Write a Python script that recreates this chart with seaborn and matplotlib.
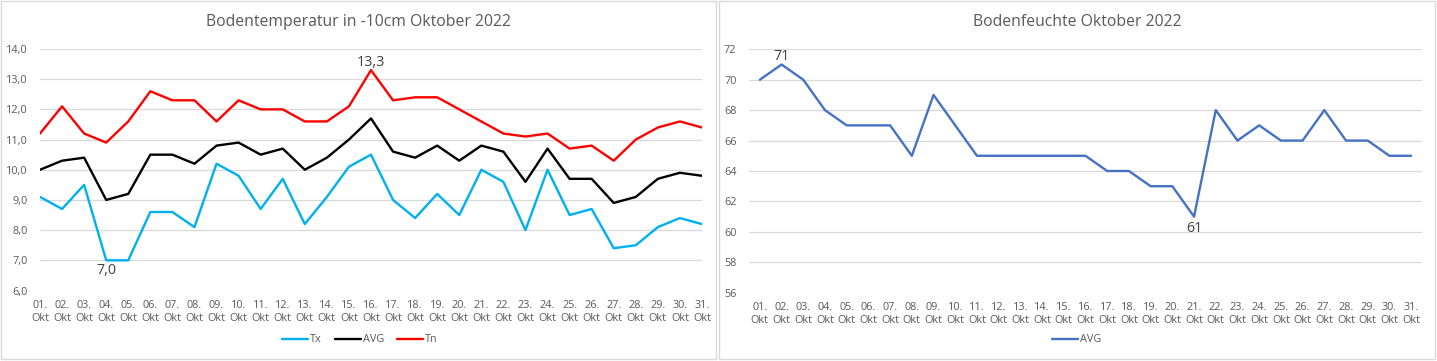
import matplotlib
matplotlib.use("Agg")
import matplotlib.pyplot as plt
from matplotlib.patches import Rectangle
import seaborn as sns
import pandas as pd
import numpy as np

days = [f"{d:02d}.\nOkt" for d in range(1, 32)]
tx = [9.1, 8.7, 9.5, 7.0, 7.0, 8.6, 8.6, 8.1, 10.2, 9.8, 8.7, 9.7, 8.2, 9.1, 10.1, 10.5,
      9.0, 8.4, 9.2, 8.5, 10.0, 9.6, 8.0, 10.0, 8.5, 8.7, 7.4, 7.5, 8.1, 8.4, 8.2]
avg_t = [10.0, 10.3, 10.4, 9.0, 9.2, 10.5, 10.5, 10.2, 10.8, 10.9, 10.5, 10.7, 10.0, 10.4, 11.0, 11.7,
         10.6, 10.4, 10.8, 10.3, 10.8, 10.6, 9.6, 10.7, 9.7, 9.7, 8.9, 9.1, 9.7, 9.9, 9.8]
tn = [11.2, 12.1, 11.2, 10.9, 11.6, 12.6, 12.3, 12.3, 11.6, 12.3, 12.0, 12.0, 11.6, 11.6, 12.1, 13.3,
      12.3, 12.4, 12.4, 12.0, 11.6, 11.2, 11.1, 11.2, 10.7, 10.8, 10.3, 11.0, 11.4, 11.6, 11.4]
feuchte = [70, 71, 70, 68, 67, 67, 67, 65, 69, 67, 65, 65, 65, 65, 65, 65,
           64, 64, 63, 63, 61, 68, 66, 67, 66, 66, 68, 66, 66, 65, 65]

title_left = "Bodentemperatur in -10cm Oktober 2022"
title_right = "Bodenfeuchte Oktober 2022"

sns.set_style("white")
plt.rcParams['font.family'] = ['Open Sans', 'DejaVu Sans']

W, H = 1437, 361
fig = plt.figure(figsize=(W / 100, H / 100), dpi=100)
fig.patch.set_facecolor("white")

def fx(px):
    return px / W

def fy(py):
    return 1 - py / H

# panel borders
for x0, x1 in [(1, 716), (719, 1435)]:
    fig.patches.append(Rectangle((fx(x0), fy(359)), fx(x1) - fx(x0), fy(1) - fy(359),
                                 transform=fig.transFigure, fill=False,
                                 edgecolor="#D9D9D9", linewidth=1))

tick_color = "#595959"
grid_color = "#D9D9D9"

ax1 = fig.add_axes([fx(40), fy(290.5), fx(702) - fx(40), fy(49) - fy(290.5)])
ax2 = fig.add_axes([fx(749), fy(292.7), fx(1422) - fx(749), fy(49.3) - fy(292.7)])

x = np.arange(len(days))
df1 = pd.DataFrame({"x": np.tile(x, 3),
                    "val": tx + avg_t + tn,
                    "Serie": ["Tx"] * 31 + ["AVG"] * 31 + ["Tn"] * 31})
palette1 = {"Tx": "#00B0F0", "AVG": "#000000", "Tn": "#FF0000"}
sns.lineplot(data=df1, x="x", y="val", hue="Serie", palette=palette1, ax=ax1,
             linewidth=1.7, legend=True)

df2 = pd.DataFrame({"x": x, "val": feuchte, "Serie": ["AVG"] * 31})
sns.lineplot(data=df2, x="x", y="val", hue="Serie", palette={"AVG": "#4472C4"}, ax=ax2,
             linewidth=1.7, legend=True)

def style(ax, ylim, yticks, fmt, xlim):
    ax.set_xlim(*xlim)
    ax.set_ylim(*ylim)
    ax.set_yticks(yticks)
    ax.set_yticklabels([fmt(v) for v in yticks])
    ax.set_xticks(x)
    ax.set_xticklabels(days, linespacing=1.25)
    ax.set_xlabel("")
    ax.set_ylabel("")
    for s in ax.spines.values():
        s.set_visible(False)
    ax.grid(axis="y", color=grid_color, linewidth=0.9)
    ax.grid(axis="x", visible=False)
    ax.set_axisbelow(True)
    ax.tick_params(axis="both", length=0, colors=tick_color, labelsize=7.8)
    ax.tick_params(axis="y", pad=9)
    ax.tick_params(axis="x", pad=7)
    ax.set_facecolor("white")

style(ax1, (6, 14), np.arange(6, 14.1, 1.0), lambda v: f"{v:.1f}".replace(".", ","), (0, 30))
style(ax2, (56, 72), np.arange(56, 73, 2), lambda v: f"{int(v)}", (-0.5, 30.5))

# titles
fig.text(fx(359), fy(22), title_left, ha="center", va="center", fontsize=11.3, color="#595959")
fig.text(fx(1077), fy(22), title_right, ha="center", va="center", fontsize=11.3, color="#595959")

# data labels
lab = dict(fontsize=10.3, color="#404040", ha="center")
i_max = int(np.argmax(tn))
ax1.annotate(f"{tn[i_max]:.1f}".replace(".", ","), (x[i_max], tn[i_max]), xytext=(0, 0),
             textcoords="offset points", va="bottom", **lab)
i_min = int(np.argmin(tx))
ax1.annotate(f"{tx[i_min]:.1f}".replace(".", ","), (x[i_min], tx[i_min]), xytext=(0, -2),
             textcoords="offset points", va="top", **lab)
j_max = int(np.argmax(feuchte))
ax2.annotate(f"{feuchte[j_max]}", (x[j_max], feuchte[j_max]), xytext=(0, 0.5),
             textcoords="offset points", va="bottom", **lab)
j_min = int(np.argmin(feuchte))
ax2.annotate(f"{feuchte[j_min]}", (x[j_min], feuchte[j_min]), xytext=(0, -3.5),
             textcoords="offset points", va="top", **lab)

# legends
for ax, cx in [(ax1, 360), (ax2, 1077)]:
    h, l = ax.get_legend_handles_labels()
    ax.get_legend().remove()
    fig.legend(h, l, loc="center", bbox_to_anchor=(fx(cx), fy(340)), ncol=len(l),
               frameon=False, fontsize=7.8, labelcolor=tick_color, handlelength=2.4,
               handletextpad=0.2, columnspacing=1.2)

fig.savefig("out.png", dpi=100, facecolor="white")
